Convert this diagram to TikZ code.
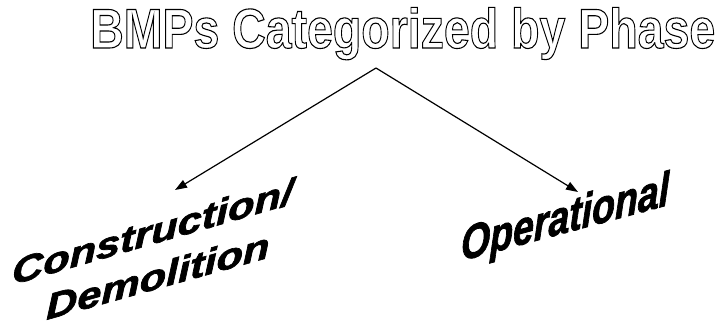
\documentclass[tikz,border=0pt]{standalone}
\usepackage{fontspec}
\setmainfont{Liberation Sans}
\newfontfamily\labelfont[FakeBold=1.8]{Liberation Sans Bold Italic}
\usetikzlibrary{arrows.meta}
\newcommand{\outlinetext}[1]{\special{pdf:literal direct 1 Tr 1.1 w}#1\special{pdf:literal direct 0 Tr}}
\begin{document}
\begin{tikzpicture}[x=1pt,y=1pt,
  conn/.style={line width=1.2pt, -{Triangle[length=12pt,width=8.5pt]}},
  titletext/.style={anchor=base west, inner sep=0pt, font=\fontsize{56}{60}\selectfont\bfseries},
  labeltext/.style={anchor=base west, inner sep=0pt, transform shape}]
\useasboundingbox (0,0) rectangle (718,327);
\node[titletext] (title) at (90,279) {\scalebox{0.83}[1]{\outlinetext{BMPs Categorized by Phase}}};
\coordinate (apex) at (376,259);
\coordinate (cd) at (175,137);
\coordinate (op) at (578,135);
\draw[conn] (apex) -- (cd);
\draw[conn] (apex) -- (op);
\begin{scope}[shift={(12,42)}, yslant=0.29]
  \node[labeltext, xscale=1.2, font=\fontsize{36}{40}\labelfont] (constr) at (0,0) {Construction/};
\end{scope}
\begin{scope}[shift={(46,7)}, yslant=0.28]
  \node[labeltext, xscale=1.2, font=\fontsize{36}{40}\labelfont] (demol) at (0,0) {Demolition};
\end{scope}
\begin{scope}[shift={(461,66)}, yslant=0.27]
  \node[labeltext, xscale=0.78, font=\fontsize{48}{52}\labelfont] (oper) at (0,0) {Operational};
\end{scope}
\end{tikzpicture}
\end{document}
